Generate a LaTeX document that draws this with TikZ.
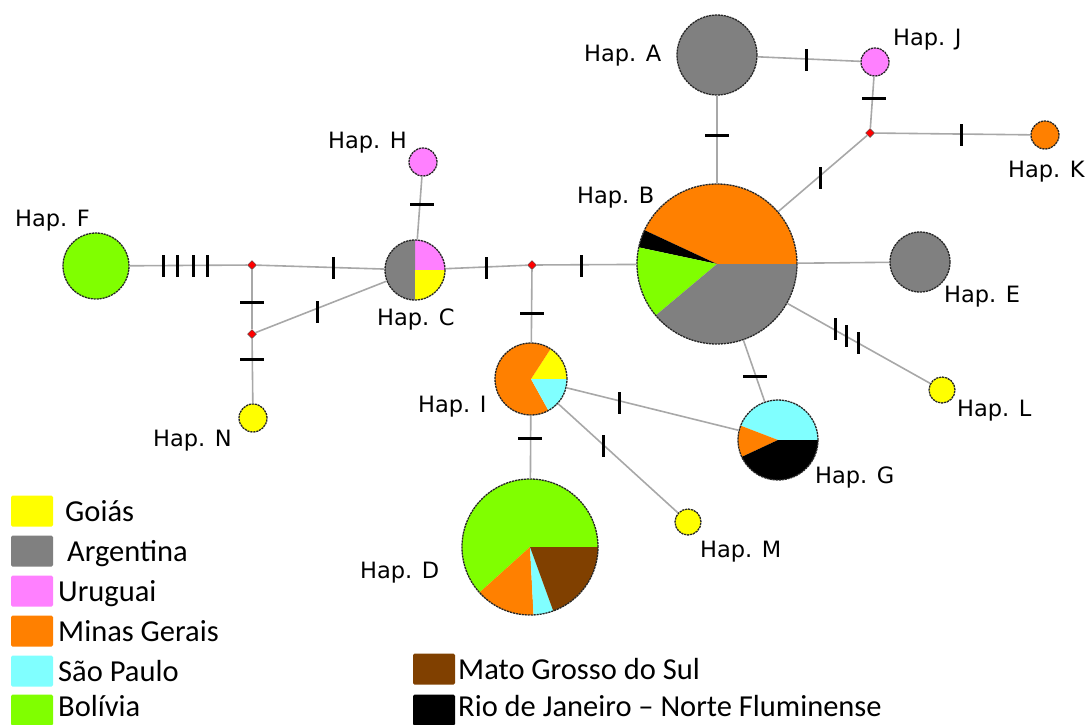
\documentclass[tikz,border=0pt]{standalone}
\usepackage{fontspec}
\setmainfont{Carlito}
\newfontfamily\hapfont{DejaVu Sans}
\usetikzlibrary{shapes.geometric}
\definecolor{cOr}{HTML}{FF8000}
\definecolor{cGr}{HTML}{808080}
\definecolor{cBo}{HTML}{80FF00}
\definecolor{cYe}{HTML}{FFFF00}
\definecolor{cPi}{HTML}{FF80FF}
\definecolor{cCy}{HTML}{80FFFF}
\definecolor{cBr}{HTML}{804000}
\definecolor{cEd}{HTML}{A8A8A8}
\newcommand\sector[6]{\fill[#6] (#1,#2) -- ++(-#4:#3) arc[start angle=-#4, end angle=-#5, radius=#3] -- cycle;}
\newcommand\tickV[2]{\draw[tk] (#1,#2) ++(0,-11) -- ++(0,22);}
\newcommand\tickH[2]{\draw[tk] (#1,#2) ++(-12,0) -- ++(24,0);}
\begin{document}
\begin{tikzpicture}[x=1pt,y=-1pt,
 hap/.style={circle, inner sep=0pt, draw=black!85, line width=1.3pt, dash pattern=on 2.2pt off 0.8pt},
 med/.style={diamond, fill=red, draw=black!70, line width=0.5pt, inner sep=0pt, minimum size=9pt},
 edge/.style={draw=cEd, line width=1.6pt},
 tk/.style={line width=3pt, black},
 lab/.style={font=\hapfont\fontsize{22.5}{26}\selectfont, inner sep=0pt, anchor=base west},
 leg/.style={font=\fontsize{30.5}{36}\selectfont, anchor=base west, inner sep=0pt},
 legbox/.style={minimum width=42pt, minimum height=31pt, inner sep=0pt, rounded corners=1.5pt}
]
\useasboundingbox (0,0) rectangle (1092,724);
% pie sectors
\sector{717}{264}{80}{0}{155}{cOr}
\sector{717}{264}{80}{155}{168}{black}
\sector{717}{264}{80}{168}{220}{cBo}
\sector{717}{264}{80}{220}{360}{cGr}
\sector{415}{270}{30}{0}{90}{cPi}
\sector{415}{270}{30}{90}{270}{cGr}
\sector{415}{270}{30}{270}{360}{cYe}
\sector{531}{379}{36}{0}{57}{cYe}
\sector{531}{379}{36}{57}{299}{cOr}
\sector{531}{379}{36}{299}{360}{cCy}
\sector{778}{440}{40}{0}{159}{cCy}
\sector{778}{440}{40}{159}{205}{cOr}
\sector{778}{440}{40}{205}{360}{black}
\sector{530}{547}{68}{0}{222}{cBo}
\sector{530}{547}{68}{222}{273}{cOr}
\sector{530}{547}{68}{273}{290}{cCy}
\sector{530}{547}{68}{290}{360}{cBr}
% haplotype nodes
\node[hap, minimum size=160pt] (hB) at (717,264) {};
\node[hap, minimum size=60pt] (hC) at (415,270) {};
\node[hap, minimum size=72pt] (hI) at (531,379) {};
\node[hap, minimum size=80pt] (hG) at (778,440) {};
\node[hap, minimum size=136pt] (hD) at (530,547) {};
\node[hap, fill=cGr, minimum size=80pt] (hA) at (717,55) {};
\node[hap, fill=cPi, minimum size=28pt] (hJ) at (875,62) {};
\node[hap, fill=cOr, minimum size=28pt] (hK) at (1045,135) {};
\node[hap, fill=cGr, minimum size=60pt] (hE) at (920,262) {};
\node[hap, fill=cYe, minimum size=26pt] (hL) at (942,390) {};
\node[hap, fill=cYe, minimum size=26pt] (hM) at (688,522) {};
\node[hap, fill=cPi, minimum size=28pt] (hH) at (423,162) {};
\node[hap, fill=cBo, minimum size=66pt] (hF) at (96,266) {};
\node[hap, fill=cYe, minimum size=28pt] (hN) at (253,418) {};
% median vectors
\node[med] (m1) at (252,265) {};
\node[med] (m2) at (252,334) {};
\node[med] (m3) at (532,265) {};
\node[med] (m4) at (870,133) {};
% connectors
\draw[edge] (hF) -- (m1);
\draw[edge] (m1) -- (hC);
\draw[edge] (m1) -- (m2);
\draw[edge] (m2) -- (hC);
\draw[edge] (m2) -- (hN);
\draw[edge] (hC) -- (hH);
\draw[edge] (hC) -- (m3);
\draw[edge] (m3) -- (hB);
\draw[edge] (m3) -- (hI);
\draw[edge] (hI) -- (hD);
\draw[edge] (hI) -- (hG);
\draw[edge] (hI) -- (hM);
\draw[edge] (hB) -- (hA);
\draw[edge] (hA) -- (hJ);
\draw[edge] (hJ) -- (m4);
\draw[edge] (m4) -- (hK);
\draw[edge] (m4) -- (hB);
\draw[edge] (hB) -- (hE);
\draw[edge] (hB) -- (hL);
\draw[edge] (hB) -- (hG);
% mutation ticks
\tickV{163}{266}\tickV{177}{266}\tickV{193}{266}\tickV{207}{266}
\tickV{333}{268}
\tickH{252}{302}
\tickV{317}{312}
\tickH{252}{359}
\tickH{422}{204}
\tickV{486}{268}
\tickV{581}{266}
\tickH{532}{313}
\tickH{530}{438}
\tickV{619}{403}
\tickV{603}{446}
\tickH{717}{135}
\tickV{806}{60}
\tickH{874}{98}
\tickV{961}{135}
\tickV{820}{178}
\tickV{835}{329}\tickV{846}{336}\tickV{858}{343}
\tickH{755}{376}
% labels
\node[lab] (lA) at (584,61) {Hap. A};
\node[lab] (lJ) at (893,45) {Hap. J};
\node[lab] (lK) at (1008,177) {Hap. K};
\node[lab] (lB) at (577,203) {Hap. B};
\node[lab] (lE) at (944,302) {Hap. E};
\node[lab] (lL) at (957,416) {Hap. L};
\node[lab] (lG) at (815,483) {Hap. G};
\node[lab] (lM) at (700,557) {Hap. M};
\node[lab] (lI) at (418,412) {Hap. I};
\node[lab] (lD) at (360,578) {Hap. D};
\node[lab] (lC) at (377,325) {Hap. C};
\node[lab] (lH) at (328,148) {Hap. H};
\node[lab] (lF) at (15,226) {Hap. F};
\node[lab] (lN) at (153,446) {Hap. N};
% legend
\node[legbox, fill=cYe] (k1) at (32,511) {};
\node[legbox, fill=cGr] (k2) at (32,551) {};
\node[legbox, fill=cPi] (k3) at (32,591) {};
\node[legbox, fill=cOr] (k4) at (32,631) {};
\node[legbox, fill=cCy] (k5) at (32,671) {};
\node[legbox, fill=cBo] (k6) at (32,710) {};
\node[legbox, fill=cBr] (k7) at (434,669) {};
\node[legbox, fill=black] (k8) at (434,710) {};
\node[leg] (t1) at (65,521) {Goiás};
\node[leg] (t2) at (67,561) {Argentina};
\node[leg] (t3) at (58,601) {Uruguai};
\node[leg] (t4) at (58,641) {Minas Gerais};
\node[leg] (t5) at (58,681) {São Paulo};
\node[leg] (t6) at (58,716) {Bolívia};
\node[leg] (t7) at (458,679) {Mato Grosso do Sul};
\node[leg] (t8) at (458,716) {Rio de Janeiro – Norte Fluminense};
\end{tikzpicture}
\end{document}
